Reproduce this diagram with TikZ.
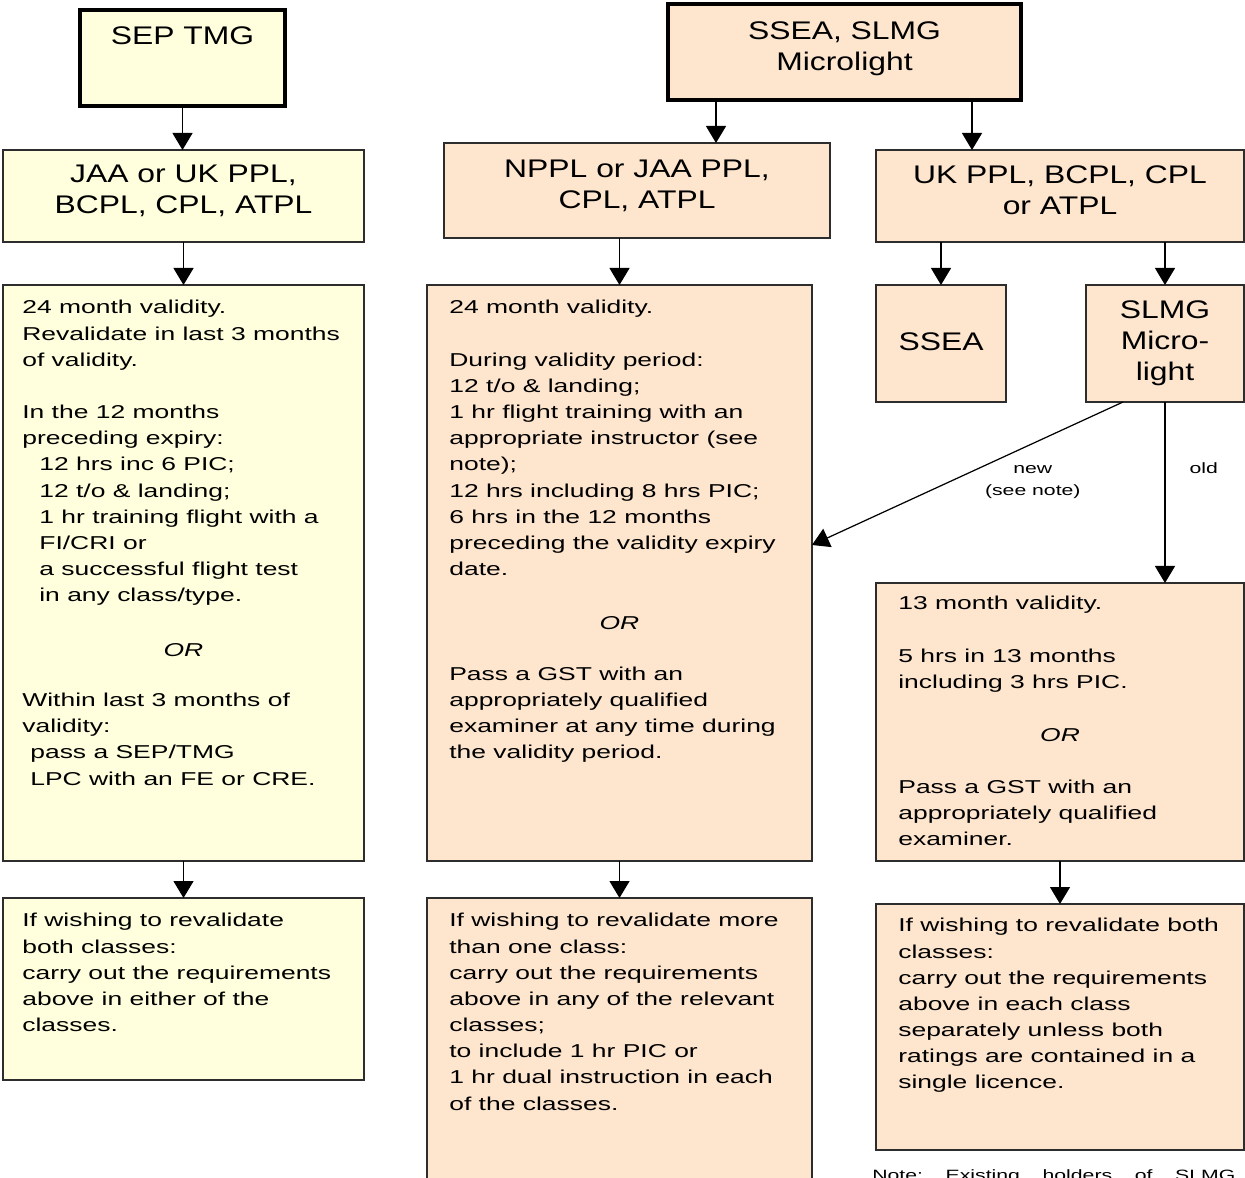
\documentclass[tikz,border=0pt]{standalone}
\usepackage{fontspec}
\setmainfont{Liberation Sans}[FakeStretch=1.42]
\newfontfamily\headfont{Liberation Sans}[FakeStretch=1.25]
\usetikzlibrary{arrows.meta}
\definecolor{paleyellow}{RGB}{255,255,221}
\definecolor{peach}{RGB}{253,229,206}
\definecolor{edge}{RGB}{45,45,45}

\begin{document}
\begin{tikzpicture}[x=0.2mm,y=-0.2mm,
  box/.style={draw=edge,line width=1pt,anchor=north west,inner sep=0pt,outer sep=0pt},
  topbox/.style={draw=black,line width=2.6pt,anchor=north west,inner sep=0pt,outer sep=0pt},
  head/.style={font=\headfont\fontsize{14.5}{17.6}\selectfont,align=center,inner sep=0pt},
  body/.style={font=\fontsize{10.6}{14.9}\selectfont,align=left,anchor=north west,inner sep=0pt},
  ortext/.style={font=\fontsize{10.6}{14.9}\selectfont\itshape,inner sep=0pt},
  small/.style={font=\fontsize{8.5}{12.5}\selectfont,align=center,inner sep=0pt},
  arr/.style={line width=0.7pt,-{Triangle[width=4mm,length=3.4mm]}}]
\clip (0,0) rectangle (1245,1178);
\fill[white] (0,0) rectangle (1245,1178);

\node[topbox,fill=paleyellow,minimum width=41mm,minimum height=19.2mm] (sep) at (80,10) {};
\node[head,anchor=north] (septext) at ([shift={(0,16)}]sep.north) {SEP TMG};
\node[box,fill=paleyellow,minimum width=72.2mm,minimum height=18.4mm] (jaa) at (3,150) {};
\node[head] (jaatext) at ([yshift=1mm]jaa.center) {JAA or UK PPL,\\BCPL, CPL, ATPL};
\node[box,fill=paleyellow,minimum width=72.2mm,minimum height=115.2mm] (lval) at (3,285) {};
\node[box,fill=paleyellow,minimum width=72.2mm,minimum height=36.4mm] (lrev) at (3,898) {};

\node[topbox,fill=peach,minimum width=70.6mm,minimum height=19.2mm] (micro) at (668,4) {};
\node[head] (microtext) at ([yshift=0.6mm]micro.center) {SSEA, SLMG\\Microlight};
\node[box,fill=peach,minimum width=77.2mm,minimum height=19mm] (nppl) at (444,143) {};
\node[head] (nppltext) at ([yshift=1mm]nppl.center) {NPPL or JAA PPL,\\CPL, ATPL};
\node[box,fill=peach,minimum width=73.6mm,minimum height=18.4mm] (ukppl) at (876,150) {};
\node[head] (ukppltext) at ([yshift=1.2mm]ukppl.center) {UK PPL, BCPL, CPL\\or ATPL};
\node[box,fill=peach,minimum width=77mm,minimum height=115.2mm] (mval) at (427,285) {};
\node[box,fill=peach,minimum width=77mm,minimum height=64mm] (mrev) at (427,898) {};
\node[box,fill=peach,minimum width=26mm,minimum height=23.4mm] (ssea) at (876,285) {};
\node[head] (sseatext) at ([yshift=0.4mm]ssea.center) {SSEA};
\node[box,fill=peach,head,minimum width=31.6mm,minimum height=23.4mm] (slmg) at (1086,285) {SLMG\\Micro-\\light};
\node[box,fill=peach,minimum width=73.6mm,minimum height=55.6mm] (m13) at (876,583) {};
\node[box,fill=peach,minimum width=73.6mm,minimum height=49.2mm] (rrev) at (876,904) {};

\node[body] (lvaltext) at ([shift={(19,15)}]lval.north west) {24 month validity.\\Revalidate in last 3 months\\of validity.\\[14.9pt]In the 12 months\\preceding expiry:\\\hspace*{3.4mm}12 hrs inc 6 PIC;\\\hspace*{3.4mm}12 t/o \& landing;\\\hspace*{3.4mm}1 hr training flight with a\\\hspace*{3.4mm}FI/CRI or\\\hspace*{3.4mm}a successful flight test\\\hspace*{3.4mm}in any class/type.\\[44.7pt]Within last 3 months of\\validity:\\\hspace*{1.6mm}pass a SEP/TMG\\\hspace*{1.6mm}LPC with an FE or CRE.};
\node[ortext] (lor) at (lval.north |- 0,650) {OR};
\node[body] (lrevtext) at ([shift={(19,15)}]lrev.north west) {If wishing to revalidate\\both classes:\\carry out the requirements\\above in either of the\\classes.};

\node[body] (mvaltext) at ([shift={(22,15)}]mval.north west) {24 month validity.\\[14.9pt]During validity period:\\12 t/o \& landing;\\1 hr flight training with an\\appropriate instructor (see\\note);\\12 hrs including 8 hrs PIC;\\6 hrs in the 12 months\\preceding the validity expiry\\date.\\[44.7pt]Pass a GST with an\\appropriately qualified\\examiner at any time during\\the validity period.};
\node[ortext] (mor) at (mval.north |- 0,623) {OR};
\node[body] (mrevtext) at ([shift={(22,15)}]mrev.north west) {If wishing to revalidate more\\than one class:\\carry out the requirements\\above in any of the relevant\\classes;\\to include 1 hr PIC or\\1 hr dual instruction in each\\of the classes.};

\node[body] (m13text) at ([shift={(22,13)}]m13.north west) {13 month validity.\\[14.9pt]5 hrs in 13 months\\including 3 hrs PIC.\\[44.7pt]Pass a GST with an\\appropriately qualified\\examiner.};
\node[ortext] (ror) at (m13.north |- 0,735) {OR};
\node[body] (rrevtext) at ([shift={(22,14)}]rrev.north west) {If wishing to revalidate both\\classes:\\carry out the requirements\\above in each class\\separately unless both\\ratings are contained in a\\single licence.};

\node[small,anchor=base west] (note) at (872,1180) {\hbox to 72.6mm{Note:\hfill Existing\hfill holders\hfill of\hfill SLMG}};

\draw[arr] (sep.south) -- (sep.south |- jaa.north);
\draw[arr] (jaa.south) -- (jaa.south |- lval.north);
\draw[arr] (lval.south) -- (lval.south |- lrev.north);
\draw[arr] (716,0 |- micro.south) -- (716,0 |- nppl.north);
\draw[arr] (972,0 |- micro.south) -- (972,0 |- ukppl.north);
\draw[arr] (mval.north |- nppl.south) -- (mval.north);
\draw[arr] (ssea.north |- ukppl.south) -- (ssea.north);
\draw[arr] (slmg.north |- ukppl.south) -- (slmg.north);
\draw[arr] (slmg.south) -- node[small,pos=0.365,right=4.8mm] (oldlabel) {old} (slmg.south |- m13.north);
\draw[arr] ([xshift=7.4mm]slmg.south west) -- node[small,pos=0.29,anchor=north,yshift=-4.2mm] (newlabel) {new\\(see note)} (mval.east |- 0,545);
\draw[arr] (mval.south) -- (mval.south |- mrev.north);
\draw[arr] (m13.south) -- (m13.south |- rrev.north);
\end{tikzpicture}
\end{document}
